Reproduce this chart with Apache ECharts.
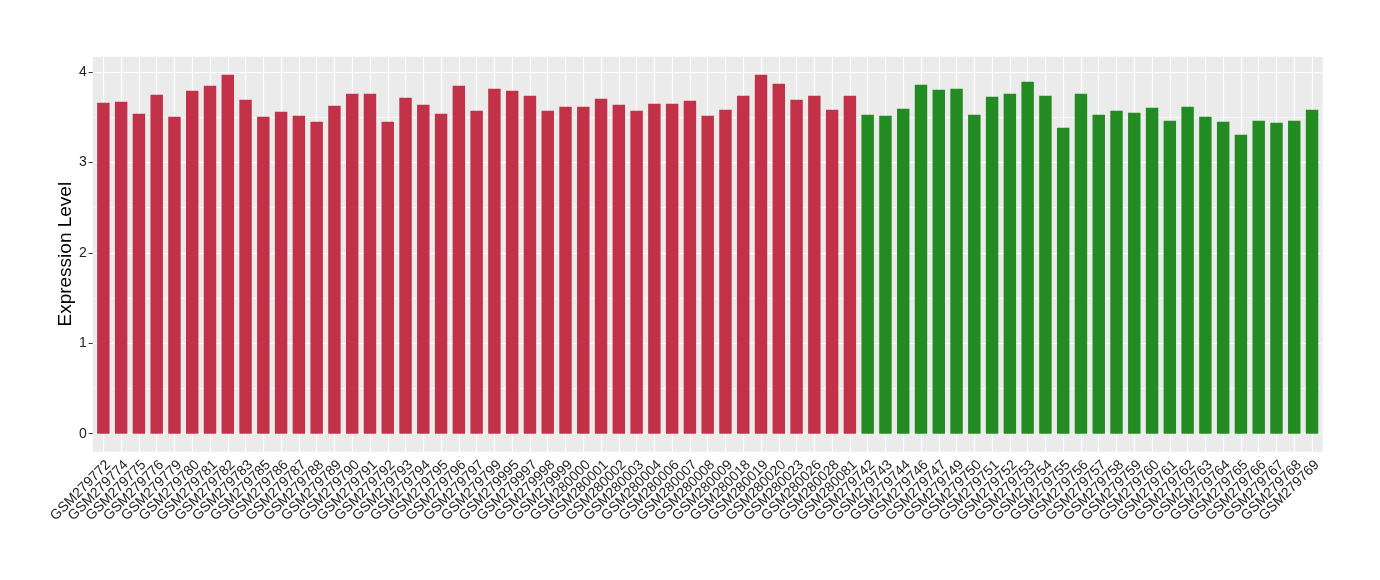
<!DOCTYPE html>
<html>
<head>
<meta charset="utf-8">
<script src="https://cdn.jsdelivr.net/npm/echarts@6/dist/echarts.min.js"></script>
<style>
html,body{margin:0;padding:0;background:#fff;}
#chart{width:1380px;height:580px;}
</style>
</head>
<body>
<div id="chart"></div>
<script>
const redSamples = ["GSM279772","GSM279774","GSM279775","GSM279776","GSM279779","GSM279780","GSM279781","GSM279782","GSM279783","GSM279785","GSM279786","GSM279787","GSM279788","GSM279789","GSM279790","GSM279791","GSM279792","GSM279793","GSM279794","GSM279795","GSM279796","GSM279797","GSM279799","GSM279995","GSM279997","GSM279998","GSM279999","GSM280000","GSM280001","GSM280002","GSM280003","GSM280004","GSM280006","GSM280007","GSM280008","GSM280009","GSM280018","GSM280019","GSM280020","GSM280023","GSM280026","GSM280028","GSM280081"];
const redValues = [3.658,3.669,3.536,3.746,3.503,3.791,3.846,3.968,3.691,3.503,3.558,3.514,3.447,3.625,3.757,3.757,3.447,3.713,3.636,3.536,3.846,3.569,3.813,3.791,3.735,3.569,3.614,3.614,3.702,3.636,3.569,3.647,3.647,3.680,3.514,3.580,3.735,3.968,3.868,3.691,3.735,3.580,3.735];
const greenSamples = ["GSM279742","GSM279743","GSM279744","GSM279746","GSM279747","GSM279749","GSM279750","GSM279751","GSM279752","GSM279753","GSM279754","GSM279755","GSM279756","GSM279757","GSM279758","GSM279759","GSM279760","GSM279761","GSM279762","GSM279763","GSM279764","GSM279765","GSM279766","GSM279767","GSM279768","GSM279769"];
const greenValues = [3.525,3.514,3.591,3.857,3.802,3.813,3.525,3.724,3.757,3.890,3.735,3.381,3.757,3.525,3.569,3.547,3.602,3.458,3.614,3.503,3.447,3.303,3.458,3.436,3.458,3.580];
const yTicks = [0,1,2,3,4];
const yMinorTicks = [0.5,1.5,2.5,3.5];
const yTitle = "Expression Level";

const redColor = "#C33149";
const greenColor = "#228B22";

const categories = redSamples.concat(greenSamples);
const barData = redValues.map(v => ({value: v, itemStyle: {color: redColor}}))
  .concat(greenValues.map(v => ({value: v, itemStyle: {color: greenColor}})));

const dataMax = Math.max(...redValues, ...greenValues);
const yMin = -0.05 * dataMax;
const yMax = 1.05 * dataMax;

const panelLeft = 92.7, panelTop = 56.7, panelW = 1230, panelH = 395;
const nCat = categories.length;
const unit = panelW / (nCat - 1 + 1.2);
const gridLeft = panelLeft + 0.1 * unit;
const gridW = nCat * unit;

const gridLines = []
  .concat(categories.map(c => ({xAxis: c, lineStyle: {color: "#ffffff", width: 1.2}})))
  .concat(yTicks.map(t => ({yAxis: t, lineStyle: {color: "#ffffff", width: 1.2}})))
  .concat(yMinorTicks.map(t => ({yAxis: t, lineStyle: {color: "#ffffff", width: 0.6}})));

const FONT = "Liberation Sans, Arial, sans-serif";
const chart = echarts.init(document.getElementById('chart'), null, {renderer: 'canvas'});
chart.setOption({
  animation: false,
  backgroundColor: "#ffffff",
  textStyle: {fontFamily: FONT},
  graphic: [{
    type: 'rect', z: -10, silent: true,
    shape: {x: panelLeft, y: panelTop, width: panelW, height: panelH},
    style: {fill: "#EBEBEB"}
  }],
  grid: {left: gridLeft, top: panelTop, width: gridW, height: panelH, containLabel: false},
  xAxis: {
    type: 'category',
    data: categories,
    boundaryGap: true,
    axisLine: {show: false},
    axisTick: {show: true, alignWithLabel: true, interval: 0, length: 4, lineStyle: {color: "#333333", width: 1}},
    axisLabel: {interval: 0, rotate: 45, fontSize: 14, color: "#222222", align: 'right', verticalAlign: 'top', margin: 6,
      fontFamily: FONT},
    splitLine: {show: false}
  },
  yAxis: {
    type: 'value',
    min: yMin, max: yMax,
    offset: 0.1 * unit,
    axisLine: {show: false},
    axisTick: {show: true, length: 4, customValues: yTicks, lineStyle: {color: "#333333", width: 1}},
    axisLabel: {fontSize: 14, color: "#222222", margin: 6, customValues: yTicks, fontFamily: FONT},
    splitLine: {show: false},
    name: yTitle,
    nameLocation: 'middle',
    nameRotate: 90,
    nameGap: 17,
    nameMoveOverlap: false,
    nameTextStyle: {fontSize: 19, color: "#000000", fontFamily: FONT}
  },
  series: [
    {
      type: 'line', data: [], z: 1, silent: true,
      markLine: {silent: true, z: 1, symbol: ['none','none'], label: {show: false}, animation: false,
        lineStyle: {type: 'solid'}, emphasis: {disabled: true}, data: gridLines}
    },
    {
      type: 'bar', data: barData, barWidth: '70%', z: 3
    }
  ]
});
</script>
</body>
</html>
